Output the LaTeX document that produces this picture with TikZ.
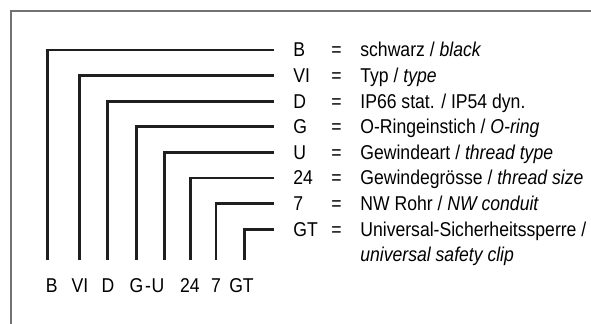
\documentclass[tikz,border=0pt]{standalone}
\usepackage{fontspec}
\setmainfont[FakeStretch=0.88]{Liberation Sans}
\begin{document}
\begin{tikzpicture}[x=0.5pt,y=-0.5pt,
  every node/.style={inner sep=0pt, font=\fontsize{10}{12}\selectfont},
  lead/.style={line width=1.35pt, draw=black!88},
  frame/.style={draw=black!55, line width=0.8pt},
  keytxt/.style={anchor=base west},
  eqtxt/.style={anchor=base},
  desctxt/.style={anchor=base west},
  bottxt/.style={anchor=base}]
\useasboundingbox (0,0) rectangle (591,324);
\draw[frame] (11,324) -- (11,11) -- (591,11);
% bottom labels
\node[bottxt] (lB)  at (51.7,293) {B};
\node[bottxt] (lVI) at (80,293) {VI};
\node[bottxt] (lD)  at (108,293) {D};
\node[bottxt] (lG)  at (136.5,293) {G};
\node[bottxt] (lm)  at (148,293) {-};
\node[bottxt] (lU)  at (158,293) {U};
\node[bottxt] (l24) at (190,293) {24};
\node[bottxt] (l7)  at (216,293) {7};
\node[bottxt] (lGT) at (241.5,293) {GT};
% rows
\foreach \n/\x/\y/\k/\d in {
  1/47.7/50/B/{schwarz / \textit{black}},
  2/79.3/75.6/VI/{Typ / \textit{type}},
  3/107.3/101.2/D/{IP66 stat. / IP54 dyn.},
  4/136.7/126.8/G/{O-Ringeinstich / \textit{O-ring}},
  5/164.3/152.4/U/{Gewindeart / \textit{thread type}},
  6/190.7/178/24/{Gewindegrösse / \textit{thread size}},
  7/216/203.6/7/{NW Rohr / \textit{NW conduit}},
  8/244.3/229.2/GT/{Universal-Sicherheitssperre /}} {
  \node[keytxt] (k\n) at (293,\y+7) {\k};
  \node[eqtxt] (q\n) at (336.5,\y+7) {=};
  \node[desctxt] (d\n) at (360,\y+7) {\d};
  \coordinate (b\n) at (\x,260);
  \coordinate (e\n) at (274,\y);
  \draw[lead] (b\n) |- (e\n);
}
\node[desctxt] (d9) at (360,254.8+7) {\textit{universal safety clip}};
\end{tikzpicture}
\end{document}
